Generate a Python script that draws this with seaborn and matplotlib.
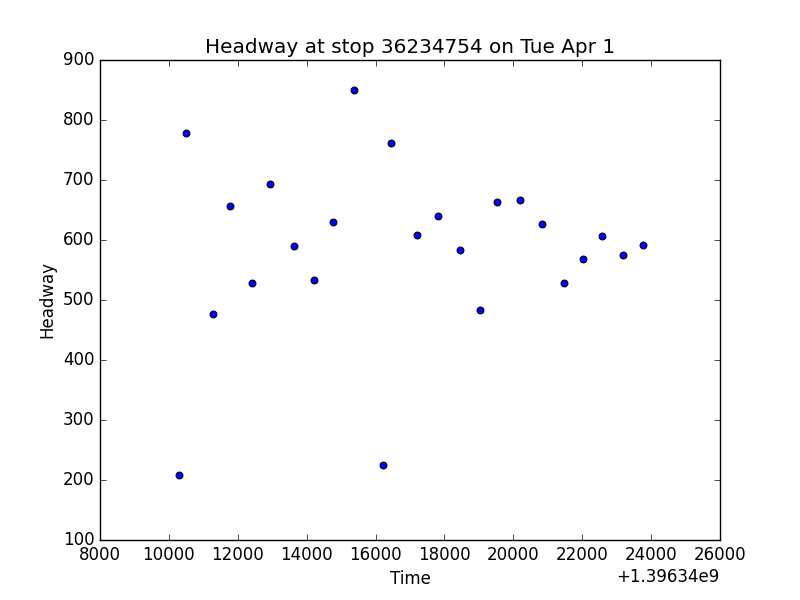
import matplotlib
matplotlib.use("Agg")
import matplotlib.pyplot as plt
import matplotlib.ticker as mticker
import numpy as np
import pandas as pd
import seaborn as sns

# arrival times (seconds offset from 1396340000) and headways
base_time = 1396340000
time_offsets = [10294, 10497, 11281, 11775, 12413, 12936, 13633, 14213, 14765, 15375,
                16217, 16449, 17204, 17814, 18453, 19033, 19527, 20195, 20833, 21472,
                22024, 22575, 23185, 23766]
headways = [208, 778, 477, 657, 528, 693, 590, 533, 630, 850,
            225, 762, 608, 640, 583, 483, 663, 667, 627, 528,
            568, 607, 575, 592]

df = pd.DataFrame({"Time": np.array(time_offsets) + base_time, "Headway": headways})

sns.set_style("ticks")
plt.style.use("classic")
plt.rcParams["font.family"] = ["DejaVu Sans"]

fig, ax = plt.subplots(figsize=(8, 6), dpi=100)
fig.subplots_adjust(left=0.125, right=0.9, bottom=0.1, top=0.9)
fig.patch.set_facecolor("white")

sns.scatterplot(data=df, x="Time", y="Headway", ax=ax, color="blue",
                edgecolor="black", linewidth=0.8, s=24, zorder=3)

ax.set_xlim(base_time + 8000, base_time + 26000)
ax.set_ylim(100, 900)
ax.xaxis.set_major_locator(mticker.MultipleLocator(2000))
ax.yaxis.set_major_locator(mticker.MultipleLocator(100))
fmt = mticker.ScalarFormatter(useOffset=base_time)
ax.xaxis.set_major_formatter(fmt)
ax.tick_params(direction="in", top=True, right=True, labelsize=12)
ax.set_title("Headway at stop 36234754 on Tue Apr 1", fontsize=14.4)
ax.set_xlabel("Time", fontsize=12)
ax.set_ylabel("Headway", fontsize=12)

fig.savefig("out.png", dpi=100, facecolor="white")
